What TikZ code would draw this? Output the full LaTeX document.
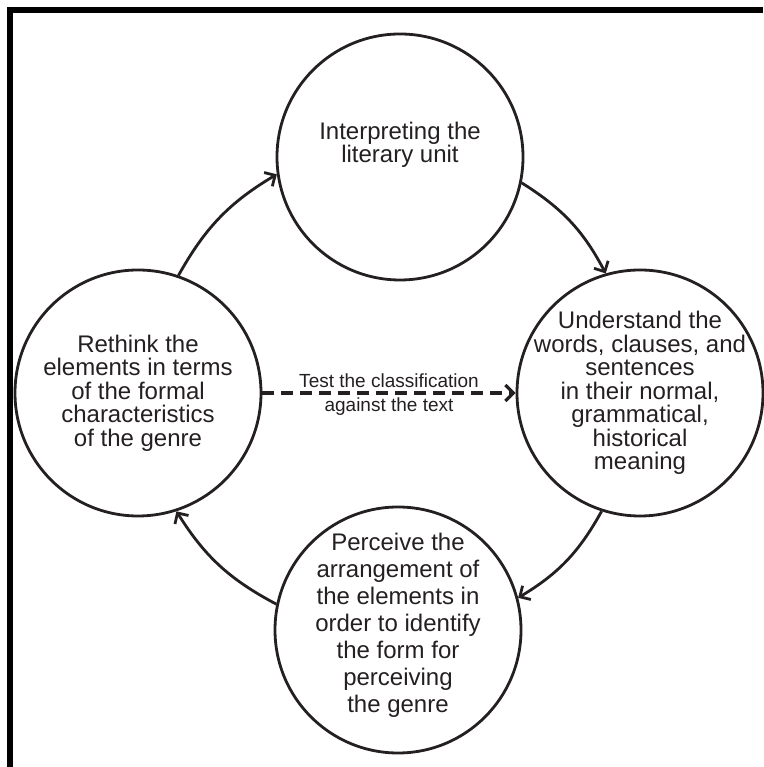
\documentclass[tikz,border=0pt]{standalone}
\usepackage{fontspec}
\setmainfont{Liberation Sans}
\usepackage{tikz}
\usetikzlibrary{positioning, arrows.meta}
\definecolor{ink}{rgb}{0.14,0.12,0.13}
\tikzstyle{stage}=[%
      circle, draw=ink, line width=2.8pt, fill=none,
      minimum size=246pt, inner sep=0pt
]
\tikzstyle{words}=[%
      text=ink, align=center, inner sep=0pt,
      font=\fontsize{24}{23.5}\selectfont
]
\tikzstyle{flow}=[%
      draw=ink, line width=2.8pt, -{Straight Barb[length=8pt,width=16pt]}
]
\tikzstyle{test}=[%
      flow, line width=3.2pt, dash pattern=on 12pt off 7pt
]
\tikzstyle{note}=[%
      text=ink, inner sep=3.5pt, font=\fontsize{19}{20}\selectfont
]

\begin{document}
\begin{tikzpicture}[x=1pt,y=1pt]
    \useasboundingbox (0,0) rectangle (763,767);
    \draw[line width=5.5pt] (9.8,0) -- (9.8,757.2) -- (763,757.2);

    \node[stage, label={[words, yshift=12pt]center:Interpreting the\\literary unit}]
          (unit)    at (400,610) {};
    \node[stage, label={[words]center:Understand the\\words, clauses, and\\sentences\\in their normal,\\grammatical,\\historical\\meaning}]
          (meaning) at (640,374) {};
    \node[stage, label={[words, font=\fontsize{24}{27}\selectfont, yshift=5pt]center:Perceive the\\arrangement of\\the elements in\\order to identify\\the form for\\perceiving\\the genre}]
          (form)    at (398,137) {};
    \node[stage, label={[words]center:Rethink the\\elements in terms\\of the formal\\characteristics\\of the genre}]
          (genre)   at (138,374) {};

    \draw[flow] (genre.71)    to[bend left=15] (unit.188);
    \draw[flow] (unit.-12)    to[bend left=15] (meaning.106);
    \draw[flow] (meaning.-108) to[bend left=15] (form.15);
    \draw[flow] (form.168)    to[bend left=15] (genre.-72);

    \draw[test] (genre.east) -- (meaning.west)
          node[note, midway, above] (testtop) {Test the classification}
          node[note, midway, below] (testbot) {against the text};
\end{tikzpicture}
\end{document}
